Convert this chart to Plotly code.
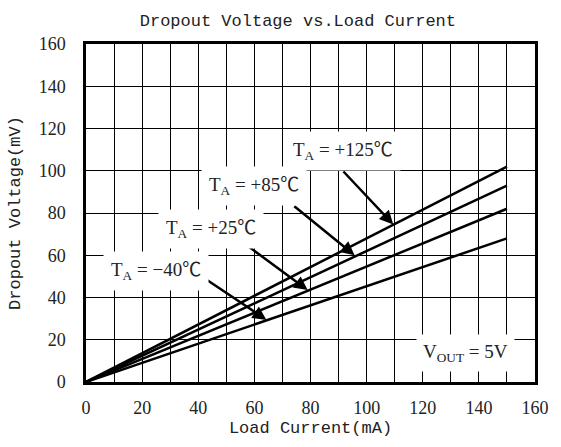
import plotly.graph_objects as go

# Data
load_current = [0, 150]
ta_125 = [0, 102]
ta_85 = [0, 93]
ta_25 = [0, 82]
ta_m40 = [0, 68]
x_ticks = [0, 20, 40, 60, 80, 100, 120, 140, 160]
y_ticks = [0, 20, 40, 60, 80, 100, 120, 140, 160]

labels = ["T<sub>A</sub> = +125℃", "T<sub>A</sub> = +85℃", "T<sub>A</sub> = +25℃", "T<sub>A</sub> = −40℃"]
label_pos = [(91.5, 109.3), (59.7, 92.8), (44.4, 72.4), (24.8, 52.5)]
arrow_tail = [(91.2, 100.4), (73.7, 83.8), (56.2, 65.8), (42.6, 48.8)]
arrow_tip = [(109.5, 74.6), (95.7, 60.0), (79.0, 43.5), (64.3, 29.4)]

fig = go.Figure()
for ys in [ta_125, ta_85, ta_25, ta_m40]:
    fig.add_trace(go.Scatter(x=load_current, y=ys, mode="lines",
                             line=dict(color="black", width=2.5), showlegend=False))

serif = "Liberation Serif, Times New Roman, Noto Sans CJK SC"
mono = "Liberation Mono, Courier New, monospace"

annotations = []
for (tx, ty), (hx, hy) in zip(arrow_tail, arrow_tip):
    annotations.append(dict(x=hx, y=hy, ax=tx, ay=ty, xref="x", yref="y", axref="x", ayref="y",
                            text=" ", showarrow=True, arrowhead=2, arrowsize=1.1, arrowwidth=2.5,
                            arrowcolor="black", font=dict(size=1)))
for lab, (lx, ly) in zip(labels, label_pos):
    annotations.append(dict(x=lx, y=ly, xref="x", yref="y", text=lab, showarrow=False,
                            bgcolor="white", borderpad=7, font=dict(family=serif, size=19, color="#222")))
annotations.append(dict(x=135.2, y=13.7, xref="x", yref="y", text="V<sub>OUT</sub> = 5V", showarrow=False,
                        bgcolor="white", borderpad=6, font=dict(family=serif, size=19, color="#222")))

fig.update_layout(
    width=561, height=447,
    margin=dict(l=86, r=17, t=44, b=65),
    paper_bgcolor="white", plot_bgcolor="white",
    title=dict(text="Dropout Voltage vs.Load Current", x=0.531, xref="container", xanchor="center",
               y=0.955, yref="container", yanchor="middle",
               font=dict(family=mono, size=17, color="#222")),
    annotations=annotations,
)
fig.update_xaxes(range=[0, 160], tickvals=x_ticks, ticktext=[str(v) for v in x_ticks],
                 showgrid=True, gridcolor="black", gridwidth=1,
                 showline=True, linecolor="black", linewidth=2.5, mirror=True, zeroline=False,
                 ticks="", ticklabelstandoff=8,
                 tickfont=dict(family=serif, size=18, color="#222"),
                 title=dict(text="Load Current(mA)", font=dict(family=mono, size=17, color="#222"), standoff=4),
                 minor=dict(showgrid=True, gridcolor="black", gridwidth=1,
                            tickvals=[10, 30, 50, 70, 90, 110, 130, 150]))
fig.update_yaxes(range=[0, 160], tickvals=y_ticks, ticktext=[str(v) for v in y_ticks],
                 showgrid=True, gridcolor="black", gridwidth=1,
                 showline=True, linecolor="black", linewidth=2.5, mirror=True, zeroline=False,
                 ticks="", ticklabelstandoff=14,
                 tickfont=dict(family=serif, size=18, color="#222"),
                 title=dict(text="Dropout Voltage(mV)", font=dict(family=mono, size=17, color="#222"), standoff=14))

fig.write_html("out.html", config={"displayModeBar": False},
               post_script="document.body.style.margin='0';")
